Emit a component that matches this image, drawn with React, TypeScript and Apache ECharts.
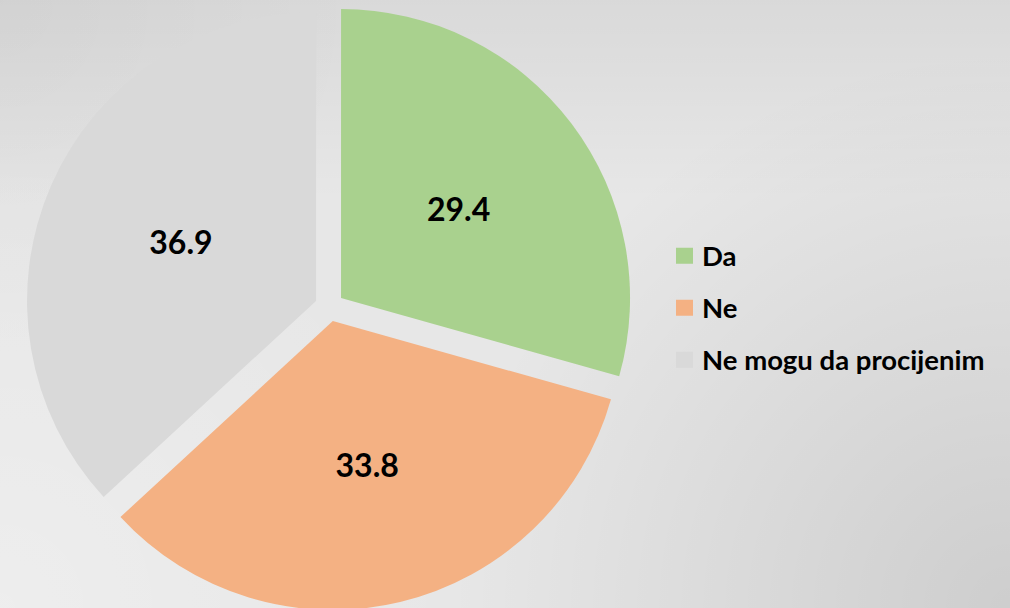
import React, { useEffect, useRef } from "react";
import * as echarts from "echarts";

const categories = ["Da", "Ne", "Ne mogu da procijenim"];
const values = [29.4, 33.8, 36.9];
const colors = ["#a9d18e", "#f4b183", "#d9d9d9"];

const LEGEND_FONT = 27.5;
const W = 1010;
const H = 608;

function overlay(fill: any) {
  return {
    type: "rect",
    z: -10,
    silent: true,
    shape: { x: 0, y: 0, width: W, height: H },
    style: { fill },
  };
}

export default function App() {
  const ref = useRef<HTMLDivElement>(null);
  useEffect(() => {
    if (!ref.current) return;
    const chart = echarts.init(ref.current, null, { renderer: "svg" });
    chart.setOption({
      animation: false,
      backgroundColor: "#e7e7e7",
      graphic: {
        elements: [
          overlay(
            new echarts.graphic.LinearGradient(0, 0, 0, 200, [
              { offset: 0, color: "rgba(0,0,0,0.06)" },
              { offset: 1, color: "rgba(0,0,0,0)" },
            ], true)
          ),
          overlay(
            new echarts.graphic.RadialGradient(0, 0, 360, [
              { offset: 0, color: "rgba(0,0,0,0.035)" },
              { offset: 1, color: "rgba(0,0,0,0)" },
            ], true)
          ),
          overlay(
            new echarts.graphic.RadialGradient(W, H, 560, [
              { offset: 0, color: "rgba(0,0,0,0.11)" },
              { offset: 1, color: "rgba(0,0,0,0)" },
            ], true)
          ),
          overlay(
            new echarts.graphic.RadialGradient(0, H, 460, [
              { offset: 0, color: "rgba(255,255,255,0.28)" },
              { offset: 1, color: "rgba(255,255,255,0)" },
            ], true)
          ),
        ],
      },
      legend: {
        orient: "vertical",
        left: 676,
        top: 255.5 - LEGEND_FONT / 2,
        padding: 0,
        itemWidth: 17,
        itemHeight: 16,
        itemGap: 51.5 - LEGEND_FONT,
        icon: "rect",
        selectedMode: false,
        data: categories,
        textStyle: {
          fontFamily: "Lato",
          fontWeight: "bold",
          fontSize: LEGEND_FONT,
          color: "#000",
          padding: [0, 0, 0, 4],
        },
      },
      series: [
        {
          type: "pie",
          center: [329.4, 306.8],
          radius: [0, 289],
          startAngle: 90,
          clockwise: true,
          selectedMode: "multiple",
          selectedOffset: 14.6,
          avoidLabelOverlap: false,
          emphasis: { disabled: true },
          label: {
            show: true,
            position: "inside",
            formatter: (p: any) => p.value.toFixed(1),
            fontFamily: "Lato",
            fontWeight: "bold",
            fontSize: 32,
            color: "#000",
          },
          labelLine: { show: false },
          itemStyle: { borderWidth: 0 },
          data: categories.map((c, i) => ({
            name: c,
            value: values[i],
            selected: true,
            itemStyle: { color: colors[i] },
          })),
        },
      ],
    });
    return () => chart.dispose();
  }, []);
  return (
    <div
      ref={ref}
      style={{ position: "fixed", left: 0, top: 0, width: W, height: H }}
    />
  );
}
